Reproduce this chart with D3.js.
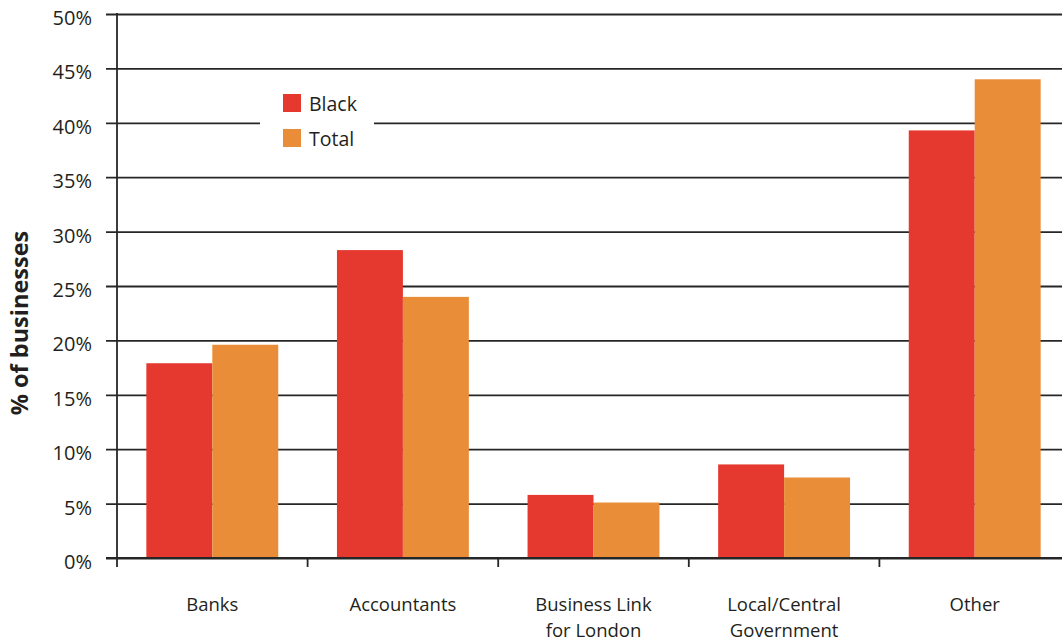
<!DOCTYPE html>
<html>
<head>
<meta charset="utf-8">
<script src="https://cdn.jsdelivr.net/npm/d3@7"></script>
<style>
  html, body { margin: 0; padding: 0; background: #fff; }
  svg { display: block; }
  text { font-family: "Open Sans", "Noto Sans", sans-serif; fill: #231f20; }
</style>
</head>
<body>
<svg id="chart" width="1062" height="642"></svg>
<script>
// Who businesses turn to for advice, by source
const categories = [["Banks"], ["Accountants"], ["Business Link", "for London"], ["Local/Central", "Government"], ["Other"]];
const seriesNames = ["Black", "Total"];
const blackValues = [17.9, 28.3, 5.8, 8.6, 39.3];
const totalValues = [19.6, 24.0, 5.1, 7.4, 44.0];
const yTicks = [0, 5, 10, 15, 20, 25, 30, 35, 40, 45, 50];
const colors = ["#e5382f", "#ea8d38"];

const svg = d3.select("#chart");
const W = 1062, H = 642;
const plotLeft = 117, plotRight = 1070, plotTop = 14, plotBottom = 558;

const x = d3.scaleBand()
  .domain(categories.map((c, i) => i))
  .range([plotLeft, plotRight])
  .paddingInner(0.308)
  .paddingOuter(0.154);
const xSub = d3.scaleBand().domain(seriesNames).range([0, x.bandwidth()]);
const y = d3.scaleLinear().domain([0, 50]).range([plotBottom, plotTop]);

// horizontal gridlines with left ticks
const yAxis = d3.axisLeft(y).tickValues(yTicks).tickFormat(d => d + "%")
  .tickSize(-(W - plotLeft + 2)).tickSizeOuter(0).tickPadding(25);
const gy = svg.append("g").attr("transform", `translate(${plotLeft},0)`).call(yAxis);
gy.select(".domain").remove();
gy.selectAll(".tick line").attr("x1", -11).attr("stroke", "#262626").attr("stroke-width", 1.8);
gy.selectAll(".tick text").attr("font-size", 20).attr("dy", "0.52em").attr("fill", "#231f20");

// bars
const rows = categories.map((c, i) => ({ i, values: [blackValues[i], totalValues[i]] }));
const groups = svg.append("g").selectAll("g").data(rows).join("g")
  .attr("transform", d => `translate(${x(d.i)},0)`);
groups.selectAll("rect").data(d => d.values.map((v, k) => ({ k, v }))).join("rect")
  .attr("x", d => xSub(seriesNames[d.k]))
  .attr("width", xSub.bandwidth())
  .attr("y", d => y(d.v))
  .attr("height", d => y(0) - y(d.v))
  .attr("fill", d => colors[d.k]);

// vertical axis line and category separators
svg.append("line").attr("x1", plotLeft).attr("x2", plotLeft).attr("y1", y(50) - 1).attr("y2", plotBottom + 9)
  .attr("stroke", "#262626").attr("stroke-width", 1.8);
categories.forEach((c, i) => {
  if (i === 0) return;
  const sx = plotLeft + i * x.step();
  svg.append("line").attr("x1", sx).attr("x2", sx).attr("y1", plotBottom).attr("y2", plotBottom + 9)
    .attr("stroke", "#262626").attr("stroke-width", 1.8);
});
// zero baseline on top of bars
svg.append("line").attr("x1", plotLeft - 11).attr("x2", W + 2).attr("y1", y(0)).attr("y2", y(0))
  .attr("stroke", "#262626").attr("stroke-width", 1.8);

// category labels
const lab = svg.append("g").selectAll("text").data(categories).join("text")
  .attr("text-anchor", "middle")
  .attr("font-size", 18.5)
  .attr("x", (d, i) => x(i) + x.bandwidth() / 2)
  .attr("y", 611);
lab.selectAll("tspan").data(d => d).join("tspan")
  .attr("x", function () { return d3.select(this.parentNode).attr("x"); })
  .attr("dy", (d, j) => j === 0 ? 0 : 26)
  .text(d => d);

// y-axis title
svg.append("text")
  .attr("transform", "translate(28,323) rotate(-90)")
  .attr("text-anchor", "middle")
  .attr("font-size", 23.5)
  .attr("font-weight", "bold")
  .text("% of businesses");

// legend
const lg = svg.append("g");
lg.append("rect").attr("x", 260).attr("y", 82).attr("width", 114).attr("height", 74).attr("fill", "#fff");
seriesNames.forEach((name, k) => {
  const yy = 94 + k * 35;
  lg.append("rect").attr("x", 283).attr("y", yy).attr("width", 18).attr("height", 18).attr("fill", colors[k]);
  lg.append("text").attr("x", 309).attr("y", yy + 17).attr("font-size", 19.5).text(name);
});
</script>
</body>
</html>
